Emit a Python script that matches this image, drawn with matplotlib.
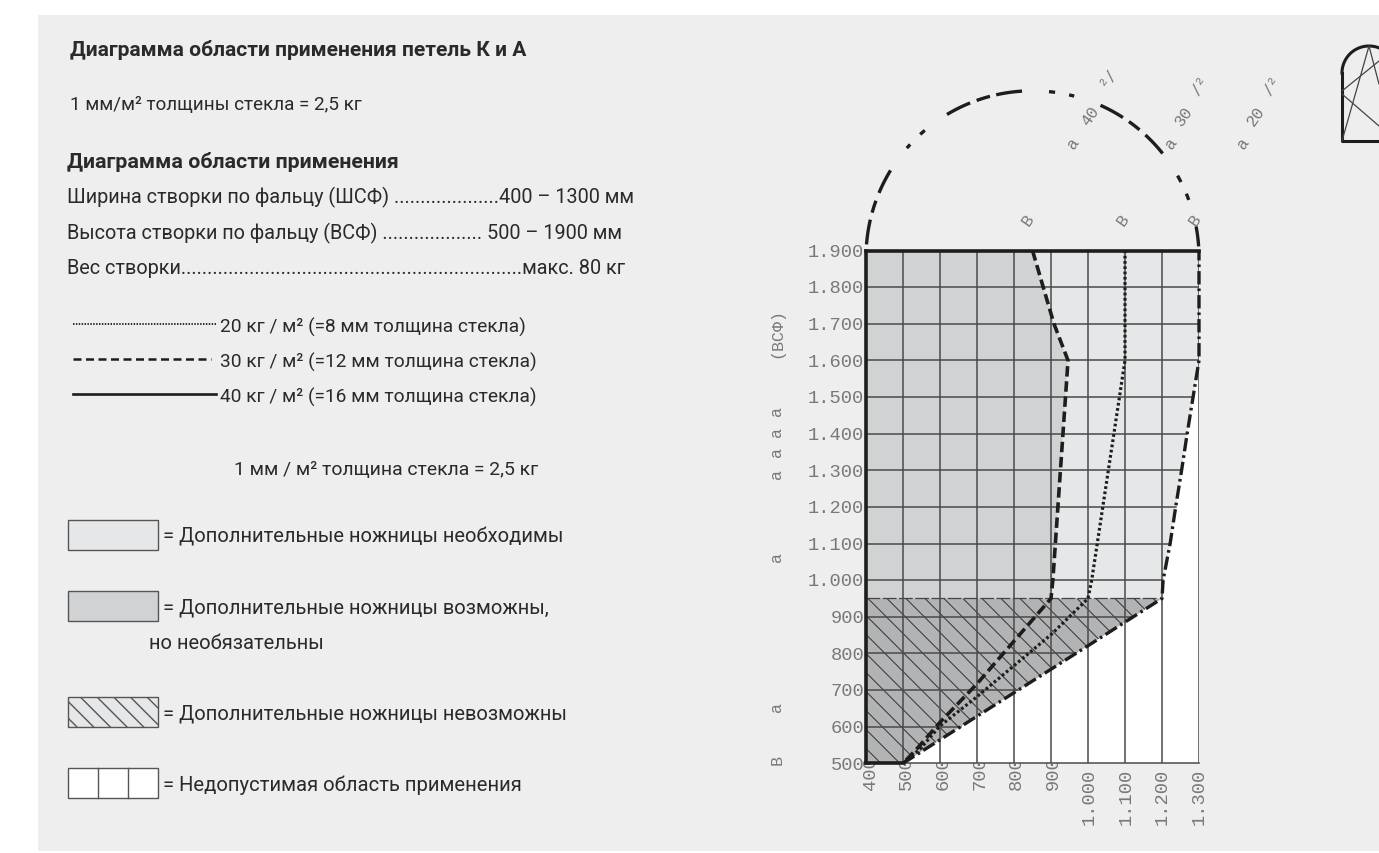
import numpy as np
import matplotlib
matplotlib.use("Agg")
import matplotlib.pyplot as plt
from matplotlib.patches import Polygon, Rectangle

W, H = 1379, 854
GREY = "#eeeeee"
LIGHT = "#e6e7e8"
MID = "#d1d2d4"
DARK = "#b2b3b5"
INK = "#1d1d1b"
GRID = "#4a4a4a"
LABEL = "#787878"
TEXT_FONT = "Roboto"
MONO = "Liberation Mono"

# chart data, millimetres
x_ticks = [400, 500, 600, 700, 800, 900, 1000, 1100, 1200, 1300]
x_labels = ["400", "500", "600", "700", "800", "900", "1.000", "1.100", "1.200", "1.300"]
y_ticks = [500, 600, 700, 800, 900, 1000, 1100, 1200, 1300, 1400, 1500, 1600, 1700, 1800, 1900]
y_labels = ["500", "600", "700", "800", "900", "1.000", "1.100", "1.200", "1.300", "1.400",
            "1.500", "1.600", "1.700", "1.800", "1.900"]

limit_x = [500, 1000, 1200, 1203, 1222, 1237, 1253, 1268, 1284, 1300, 1300]
limit_y = [500, 821, 950, 1000, 1100, 1200, 1300, 1400, 1500, 1600, 1900]
line30_x = [850, 908, 946, 905, 900, 700, 600, 537, 500]
line30_y = [1900, 1700, 1600, 1000, 950, 717, 612, 539, 500]
line20_x = [1100, 1100, 1010, 1000, 902, 699, 600, 546, 500]
line20_y = [1900, 1600, 1000, 950, 853, 681, 602, 539, 500]

# arch pieces over the chart, degrees on the circle
arch_on = [175.5, 164.4, 157.2, 139, 132.4, 120.9, 109.6, 102.6, 84.3, 77.3, 65.9, 54.6, 47.3, 29.4, 22.5, 10.7]
arch_off = [166.9, 160.1, 148.5, 137.3, 130.3, 112, 104.8, 93.6, 82.2, 75.5, 57.1, 50, 38.6, 26.9, 20.2, 3.8]

fig = plt.figure(figsize=(W / 100, H / 100), dpi=100, facecolor="white")

# page layer in pixels, y going down
page = fig.add_axes([0, 0, 1, 1])
page.set_xlim(0, W)
page.set_ylim(H, 0)
page.axis("off")
page.add_patch(Rectangle((38, 16), W - 38, 836, fc=GREY, ec="none"))


def label(x, y, s, size=14.5, weight="normal"):
    page.text(x, y, s, fontsize=size, fontweight=weight, family=TEXT_FONT, color="#2b2a29",
              va="baseline", ha="left")


label(70, 56, "Диаграмма области применения петель К и А", 15.1, "bold")
label(70, 110, "1 мм/м² толщины стекла = 2,5 кг", 13.6)
label(67, 168, "Диаграмма области применения", 15.4, "bold")
label(67, 203, "Ширина створки по фальцу (ШСФ) ....................400 – 1300 мм", 14.3)
label(67, 239, "Высота створки по фальцу (ВСФ) ................... 500 – 1900 мм", 14.3)
label(67, 274, "Вес створки.................................................................макс. 80 кг", 14.3)
label(220, 333, "20 кг / м² (=8 мм толщина стекла)", 13.8)
label(220, 368, "30 кг / м² (=12 мм толщина стекла)", 13.8)
label(220, 403, "40 кг / м² (=16 мм толщина стекла)", 13.8)
label(234, 475, "1 мм / м² толщина стекла = 2,5 кг", 13.95)
label(163, 543, "= Дополнительные ножницы необходимы", 14.5)
label(163, 614, "= Дополнительные ножницы возможны,", 14.5)
label(149, 649, "но необязательны", 14.5)
label(163, 720, "= Дополнительные ножницы невозможны", 14.5)
label(163, 791, "= Недопустимая область применения", 14.6)

page.plot([73, 216], [325, 325], color=INK, lw=1.3, ls=(0, (0.8, 0.8)))
page.plot([73, 211], [360, 360], color=INK, lw=1.8, ls=(0, (3.2, 1.8)))
page.plot([73, 216], [395, 395], color=INK, lw=1.9)

page.add_patch(Rectangle((68, 521), 90, 30, fc=LIGHT, ec="#555555", lw=1))
page.add_patch(Rectangle((68, 592), 90, 30, fc=MID, ec="#555555", lw=1))
page.add_patch(Rectangle((68, 698), 90, 30, fc=LIGHT, ec="#555555", lw=1, hatch="\\\\"))
page.add_patch(Rectangle((68, 769), 90, 30, fc="white", ec="#555555", lw=1))
page.plot([98, 98], [769, 799], color="#555555", lw=1)
page.plot([128, 128], [769, 799], color="#555555", lw=1)

# little window icon, top right
page.plot([1342, 1342, 1379], [74, 142, 142], color=INK, lw=2.2)
t = np.radians(np.linspace(180, 68, 40))
page.plot(1369 + 27 * np.cos(t), 74 - 27 * np.sin(t), color=INK, lw=2.2)
page.plot([1342, 1369, 1379], [142, 47, 85], color="#444444", lw=0.9)
page.plot([1342, 1379], [92, 62], color="#444444", lw=0.9)
page.plot([1342, 1379], [95, 127], color="#444444", lw=0.9)

# side captions and rotated labels
for y, s in [(333, "(ВСФ)"), (474, "а"), (452, "а"), (432, "а"), (411, "а"), (557, "а"), (707, "а"), (760, "В")]:
    page.text(777, y, s, family=MONO, fontsize=12, color=LABEL, rotation=90, ha="center", va="center")
for x, y, s in [(1028, 220, "В"), (1123, 220, "В"), (1195, 220, "В"),
                (1073, 143, "а"), (1090, 116, "40"), (1108, 78, "²/"),
                (1171, 143, "а"), (1184, 116, "30"), (1200, 86, "/²"),
                (1243, 143, "а"), (1256, 116, "20"), (1272, 86, "/²")]:
    page.text(x, y, s, family=MONO, fontsize=12, color=LABEL, rotation=55, ha="center", va="center")

# chart axes: 400 at x=866, 1300 at x=1199, 1900 at y=251, 500 at y=764
ax = fig.add_axes([866 / W, 1 - 764.3 / H, 333 / W, 512.8 / H])
ax.set_xlim(400, 1300)
ax.set_ylim(500, 1900)
ax.patch.set_alpha(0)
for s in ax.spines.values():
    s.set_visible(False)
ax.set_xticks([])
ax.set_yticks([])

# x labels sit under the chart, the fills cover their tops
for v, s in zip(x_ticks, x_labels):
    drop = -18.4 if len(s) == 3 else -43.7
    shift = 4 * (1300 - v) / 900 * 0.72
    ax.annotate(s, (v, 500), xytext=(shift, drop), textcoords="offset points", family=MONO, fontsize=13.5,
                color=LABEL, rotation=90, ha="center", va="bottom", annotation_clip=False, zorder=0.5)

# white, then the three grey zones
xs30 = line30_x[:5]
ys30 = line30_y[:5]
ax.add_patch(Polygon(list(zip(limit_x, limit_y)) + [(1300, 500)], fc="white", ec="none", zorder=1))
ax.add_patch(Polygon(list(zip(limit_x[2:], limit_y[2:])) + list(zip(xs30, ys30)), fc=LIGHT, ec="none", zorder=1))
ax.add_patch(Polygon([(400, 1900)] + list(zip(xs30, ys30)) + [(400, 950)], fc=MID, ec="none", zorder=1))
low = Polygon([(400, 500), (500, 500), (limit_x[1], limit_y[1]), (1200, 950), (400, 950)],
              fc=DARK, ec="none", zorder=1)
ax.add_patch(low)

# hatching, 45 degrees on screen and clipped to the lower zone
px_x = 333 / 900
px_y = 512.8 / 1400
run = 500 * px_y / px_x
step = 19 / px_x
for start in np.arange(405.4 - 14 * step, 1400, step):
    hl, = ax.plot([start, start + run], [950, 450], color="#333333", lw=0.7, zorder=2)
    hl.set_clip_path(low)

ax.plot([400, 1190], [950, 950], color="#444444", lw=0.9, ls=(0, (11, 2)), zorder=3)

# grid
for v in x_ticks:
    ax.plot([v, v], [500, 1900], color=GRID, lw=1.1, zorder=3)
for v in y_ticks:
    edge = np.interp(v, limit_y, limit_x)
    ax.plot([400, edge], [v, v], color=GRID, lw=1.1, zorder=3)

# frame
ax.plot([400, 400], [500, 1900], color=INK, lw=2.6, zorder=5, clip_on=False, solid_capstyle="projecting")
ax.plot([400, 1300], [1900, 1900], color=INK, lw=2.6, zorder=5, clip_on=False, solid_capstyle="projecting")
ax.plot([400, 500], [500, 500], color=INK, lw=2.6, zorder=5, clip_on=False)
ax.plot([500, 1300], [500, 500], color=GRID, lw=1.1, zorder=3, clip_on=False)

# load curves
ax.plot(limit_x, limit_y, color=INK, lw=2.4, ls=(0, (4, 1.2, 0.8, 1.2)), zorder=6, clip_on=False)
ax.plot(line30_x, line30_y, color=INK, lw=2.6, ls=(0, (2.9, 1.3)), zorder=6)
ax.plot(line20_x, line20_y, color=INK, lw=2.3, ls=(0, (0.85, 0.8)), zorder=6)

# arch
cx, cy, rx, ry = 850, 1881, 450, 455
for a, b in zip(arch_on, arch_off):
    t = np.radians(np.linspace(a, b, 20))
    ax.plot(cx + rx * np.cos(t), cy + ry * np.sin(t), color=INK, lw=2.4, clip_on=False,
            solid_capstyle="butt")

# y labels
for v, s in zip(y_ticks, y_labels):
    ax.text(395, v - 2, s, family=MONO, fontsize=13.5, color=LABEL, ha="right", va="center", zorder=7)

fig.savefig("out.png", dpi=100)
